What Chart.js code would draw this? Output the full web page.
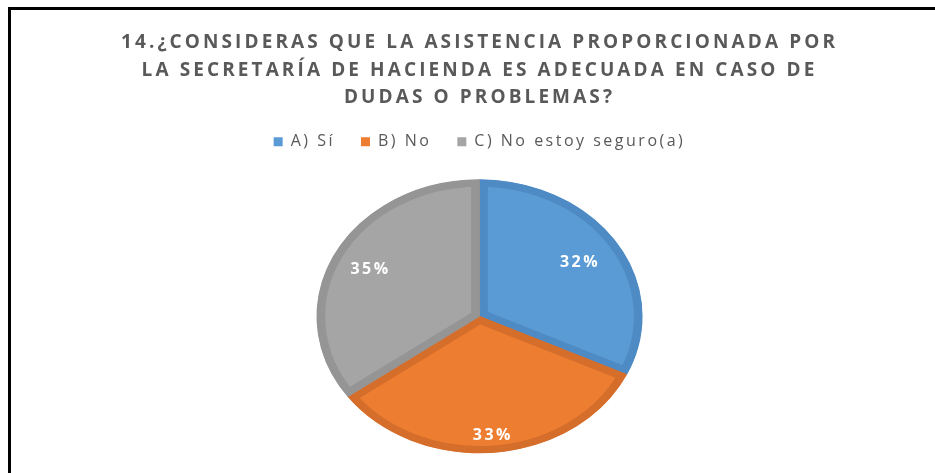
<!DOCTYPE html>
<html>
<head>
<meta charset="utf-8">
<script src="https://cdn.jsdelivr.net/npm/chart.js@4/dist/chart.umd.min.js"></script>
<style>
  html, body { margin: 0; padding: 0; background: #fff; }
  #wrap { position: relative; width: 935px; height: 473px; }
  #frame { position: absolute; left: 8px; top: 7px; right: 0; bottom: 0;
           border-top: 3px solid #000; border-left: 3px solid #000; }
  canvas { position: absolute; left: 0; top: 0; }
</style>
</head>
<body>
<div id="wrap">
  <div id="frame"></div>
  <canvas id="myChart" width="935" height="473"></canvas>
</div>
<script>
'use strict';
// data
const titleLines=['14.¿CONSIDERAS QUE LA ASISTENCIA PROPORCIONADA POR','LA SECRETARÍA DE HACIENDA ES ADECUADA EN CASO DE','DUDAS O PROBLEMAS?'];
const categories=['A) Sí','B) No','C) No estoy seguro(a)'];
const percentValues=[32,33,35];
const percentLabels=['32%','33%','35%'];

const fillColors=['#5b9bd5','#ed7d31','#a5a5a5'];
const edgeColors=['#4e8ac3','#d56e2b','#959595'];

const stretchX=1.19;
const textSpacing='2.5px';
const titleSpacing='3.1px';

// the picture's text is spread out, so widen it with letter spacing
const spreadText={
  id:'spreadText',
  beforeLayout(chart){
    chart.ctx.letterSpacing=textSpacing;
  },
  afterLayout(chart){
    const tb=chart.titleBlock;
    if(tb && !tb._wrapped){
      const orig=tb.draw;
      tb.draw=function(area){
        chart.ctx.letterSpacing=titleSpacing;
        orig.call(tb,area);
        chart.ctx.letterSpacing=textSpacing;
      };
      tb._wrapped=true;
    }
  },
  beforeDraw(chart){
    chart.ctx.letterSpacing=textSpacing;
  }
};

// squash the pie into the same oval as the picture
const stretchPie={
  id:'stretchPie',
  beforeDatasetsDraw(chart){
    const arc=chart.getDatasetMeta(0).data[0];
    const ctx=chart.ctx;
    ctx.save();
    ctx.translate(arc.x,arc.y);
    ctx.scale(stretchX,1);
    ctx.translate(-arc.x,-arc.y);
  },
  afterDatasetsDraw(chart){
    chart.ctx.restore();
  }
};

// white percent labels inside the slices
const sliceLabels={
  id:'sliceLabels',
  afterDatasetsDraw(chart,args,opts){
    const ctx=chart.ctx;
    const arcs=chart.getDatasetMeta(0).data;
    ctx.save();
    ctx.fillStyle='#ffffff';
    ctx.font='bold 16px "Open Sans"';
    ctx.letterSpacing=textSpacing;
    ctx.textAlign='center';
    ctx.textBaseline='middle';
    for(let i=0;i<arcs.length;i++){
      const a=arcs[i];
      const mid=(a.startAngle+a.endAngle)/2;
      const r=a.outerRadius*opts.radius[i];
      ctx.fillText(percentLabels[i],a.x+Math.cos(mid)*r*stretchX,a.y+Math.sin(mid)*r);
    }
    ctx.restore();
  }
};

const ctx=document.getElementById('myChart').getContext('2d');
const chart=new Chart(ctx,{
  type:'pie',
  data:{
    labels:categories,
    datasets:[{
      data:percentValues,
      backgroundColor:fillColors,
      borderColor:edgeColors,
      borderWidth:7,
      borderAlign:'inner',
      radius:137
    }]
  },
  options:{
    responsive:false,
    animation:false,
    layout:{padding:{left:24,right:0,top:29,bottom:-8}},
    plugins:{
      title:{
        display:true,
        text:titleLines,
        color:'#595959',
        font:{family:'"Open Sans"',size:19,weight:'bold',lineHeight:1.45},
        padding:{top:0,bottom:-4}
      },
      legend:{
        position:'top',
        labels:{
          color:'#595959',
          font:{family:'"Open Sans"',size:16},
          boxWidth:9,
          boxHeight:9,
          padding:26,
          generateLabels(c){
            const items=Chart.overrides.pie.plugins.legend.labels.generateLabels(c);
            items.forEach(it=>{it.lineWidth=0;});
            return items;
          }
        }
      },
      tooltip:{enabled:false},
      sliceLabels:{radius:[0.73,0.87,0.75]}
    }
  },
  plugins:[spreadText,stretchPie,sliceLabels]
});
</script>
</body>
</html>
